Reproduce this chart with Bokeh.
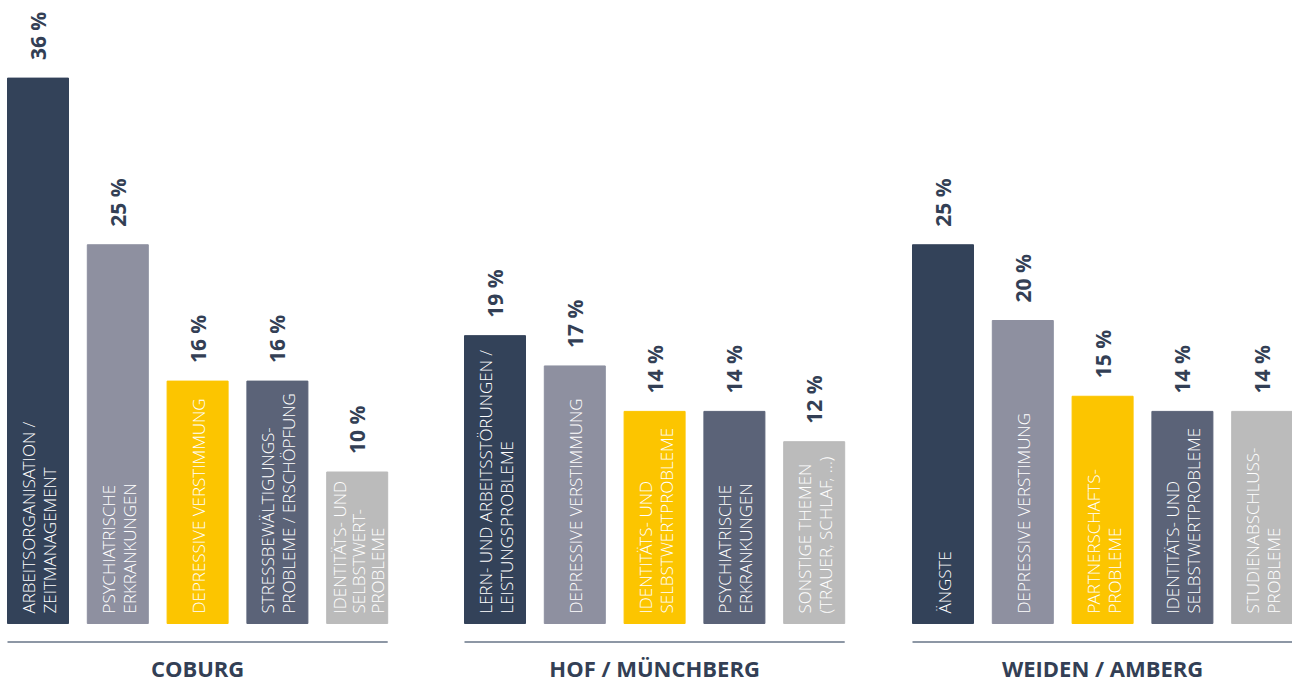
import math
from bokeh.plotting import figure
from bokeh.models import Range1d, ColumnDataSource
from bokeh.core.properties import value
from bokeh.embed import file_html
from bokeh.resources import INLINE

# ---------------- data ----------------
regions = ["COBURG", "HOF / MÜNCHBERG", "WEIDEN / AMBERG"]

coburg_topics = [
    "ARBEITSORGANISATION /\nZEITMANAGEMENT",
    "PSYCHIATRISCHE\nERKRANKUNGEN",
    "DEPRESSIVE VERSTIMMUNG",
    "STRESSBEWÄLTIGUNGS-\nPROBLEME / ERSCHÖPFUNG",
    "IDENTITÄTS- UND\nSELBSTWERT-\nPROBLEME",
]
coburg_values = [36, 25, 16, 16, 10]

hof_topics = [
    "LERN- UND ARBEITSSTÖRUNGEN /\nLEISTUNGSPROBLEME",
    "DEPRESSIVE VERSTIMMUNG",
    "IDENTITÄTS- UND\nSELBSTWERTPROBLEME",
    "PSYCHIATRISCHE\nERKRANKUNGEN",
    "SONSTIGE THEMEN\n(TRAUER, SCHLAF, …)",
]
hof_values = [19, 17, 14, 14, 12]

weiden_topics = [
    "ÄNGSTE",
    "DEPRESSIVE VERSTIMUNG",
    "PARTNERSCHAFTS-\nPROBLEME",
    "IDENTITÄTS- UND\nSELBSTWERTPROBLEME",
    "STUDIENABSCHLUSS-\nPROBLEME",
]
weiden_values = [25, 20, 15, 14, 14]

bar_colors = ["#334259", "#8e90a0", "#fcc500", "#5b6378", "#bbbbbb"]

# ---------------- layout (pixel units) ----------------
W, H = 1292, 682
PX_PER_PCT = 15.15
BASE_Y = 623            # pixel row of the bars' bottom
group_left = [7, 464, 912]
pitch = 79.8
bar_w = 61
FONT = "Open Sans"
LIGHT_FONT = "'Open Sans Light', 'Open Sans'"
TEXT_DARK = "#333f55"

all_topics = [coburg_topics, hof_topics, weiden_topics]
all_values = [coburg_values, hof_values, weiden_values]

xs, tops, cols, pct = [], [], [], []
line_x, line_txt = [], []
for g, (tp, vals) in enumerate(zip(all_topics, all_values)):
    for i, (t, v) in enumerate(zip(tp, vals)):
        cx = group_left[g] + i * pitch + bar_w / 2
        xs.append(cx)
        tops.append(v)
        cols.append(bar_colors[i])
        pct.append(f"{v} %")
        lines = t.split("\n")
        n = len(lines)
        sp = 21 if n == 2 else 19
        for j, ln in enumerate(lines):
            line_x.append(cx + 1 + (j - (n - 1) / 2) * sp)
            line_txt.append(ln)

src = ColumnDataSource(dict(
    x=xs, top=tops, color=cols, pct=pct,
    lab_y=[v + 18 / PX_PER_PCT for v in tops],
))
lines_src = ColumnDataSource(dict(
    x=line_x, text=line_txt, y=[10 / PX_PER_PCT] * len(line_x),
))

y_top = BASE_Y / PX_PER_PCT
y_bot = -(H - BASE_Y) / PX_PER_PCT

p = figure(width=W, height=H, x_range=Range1d(0, W),
           y_range=Range1d(y_bot, y_top), output_backend="svg",
           toolbar_location=None, min_border=0)
p.axis.visible = False
p.grid.visible = False
p.outline_line_color = None
p.background_fill_color = "white"
p.border_fill_color = "white"

p.vbar(x="x", width=bar_w, bottom=0, top="top", color="color", source=src)

p.text(x="x", y="y", text="text", source=lines_src, angle=math.pi / 2,
       text_align="left", text_baseline="middle", text_color="white",
       text_font=value(LIGHT_FONT), text_font_size="17px")

p.text(x="x", y="lab_y", text="pct", source=src, angle=math.pi / 2,
       text_align="left", text_baseline="middle", text_color=TEXT_DARK,
       text_font=value(FONT), text_font_style="bold", text_font_size="21px")

g_left = group_left
g_right = [gl + 4 * pitch + bar_w for gl in group_left]
sep_y = -(641.5 - BASE_Y) / PX_PER_PCT
p.segment(x0=g_left, x1=g_right, y0=[sep_y] * 3, y1=[sep_y] * 3,
          line_color="#8d97a5", line_width=2)

lab_y = -(667.5 - BASE_Y) / PX_PER_PCT
p.text(x=[(a + b) / 2 for a, b in zip(g_left, g_right)], y=[lab_y] * 3,
       text=regions, text_align="center", text_baseline="middle",
       text_color=TEXT_DARK, text_font=value(FONT), text_font_style="bold",
       text_font_size="22px")

open("out.html", "w").write(file_html(p, INLINE))
